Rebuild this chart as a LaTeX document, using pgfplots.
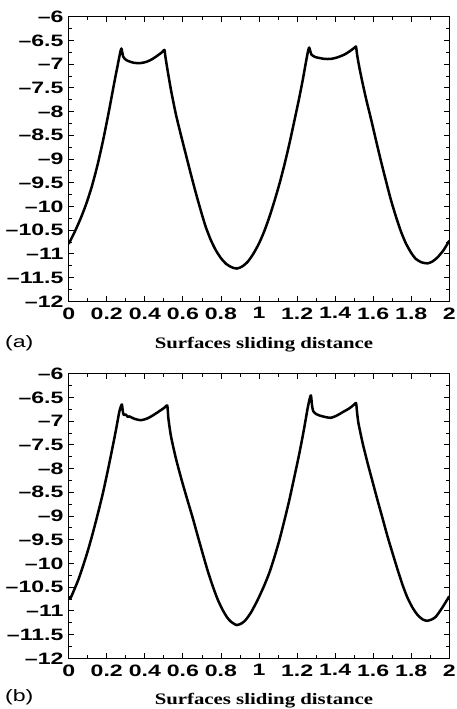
\documentclass[border=0pt]{standalone}
\usepackage{fontspec}
\usepackage{pgfplots}
\pgfplotsset{compat=1.18}
\newfontfamily\tickfont{Liberation Sans}[FakeStretch=1.4]
\newfontfamily\labfont{Liberation Serif}[FakeStretch=1.3]

\pgfplotstableread{
x y
0.000 -10.79
0.030 -10.55
0.060 -10.28
0.090 -9.97
0.120 -9.60
0.150 -9.15
0.180 -8.62
0.210 -8.02
0.240 -7.38
0.260 -6.97
0.272 -6.73
0.277 -6.67
0.281 -6.74
0.286 -6.84
0.295 -6.89
0.310 -6.93
0.340 -6.97
0.375 -6.98
0.410 -6.95
0.441 -6.89
0.470 -6.81
0.490 -6.75
0.503 -6.70
0.508 -6.84
0.520 -7.14
0.540 -7.60
0.564 -8.07
0.590 -8.50
0.616 -8.91
0.642 -9.32
0.669 -9.73
0.695 -10.10
0.720 -10.43
0.748 -10.72
0.774 -10.93
0.800 -11.09
0.827 -11.21
0.855 -11.28
0.883 -11.31
0.910 -11.27
0.940 -11.17
0.970 -11.00
1.000 -10.78
1.027 -10.53
1.054 -10.23
1.080 -9.90
1.107 -9.53
1.133 -9.13
1.159 -8.69
1.185 -8.21
1.212 -7.70
1.230 -7.33
1.247 -6.95
1.258 -6.72
1.264 -6.65
1.269 -6.72
1.276 -6.80
1.295 -6.85
1.317 -6.87
1.345 -6.89
1.378 -6.89
1.410 -6.86
1.448 -6.80
1.480 -6.72
1.503 -6.65
1.510 -6.63
1.514 -6.76
1.524 -7.00
1.540 -7.32
1.562 -7.72
1.590 -8.18
1.615 -8.61
1.640 -9.03
1.667 -9.46
1.693 -9.86
1.720 -10.22
1.746 -10.53
1.772 -10.78
1.800 -10.98
1.825 -11.11
1.855 -11.18
1.886 -11.20
1.912 -11.16
1.939 -11.07
1.970 -10.92
2.000 -10.72
}\dataA

\pgfplotstableread{
x y
0.000 -10.70
0.008 -10.74
0.021 -10.63
0.050 -10.35
0.074 -10.07
0.100 -9.74
0.126 -9.37
0.152 -8.97
0.179 -8.53
0.205 -8.05
0.231 -7.54
0.250 -7.15
0.266 -6.80
0.275 -6.68
0.280 -6.65
0.284 -6.78
0.289 -6.87
0.300 -6.86
0.310 -6.91
0.319 -6.90
0.345 -6.95
0.380 -6.98
0.415 -6.94
0.450 -6.86
0.480 -6.78
0.505 -6.71
0.518 -6.67
0.524 -6.95
0.538 -7.33
0.563 -7.78
0.590 -8.19
0.620 -8.61
0.651 -9.03
0.678 -9.42
0.704 -9.79
0.730 -10.15
0.757 -10.48
0.783 -10.76
0.809 -10.98
0.833 -11.14
0.853 -11.23
0.883 -11.30
0.910 -11.26
0.930 -11.19
0.957 -11.04
0.984 -10.84
1.000 -10.71
1.027 -10.47
1.054 -10.20
1.080 -9.88
1.107 -9.51
1.133 -9.10
1.159 -8.67
1.185 -8.19
1.212 -7.68
1.235 -7.20
1.256 -6.72
1.265 -6.55
1.273 -6.46
1.279 -6.68
1.285 -6.79
1.300 -6.85
1.317 -6.88
1.345 -6.91
1.378 -6.93
1.410 -6.88
1.440 -6.81
1.475 -6.73
1.500 -6.65
1.510 -6.62
1.515 -6.80
1.522 -7.03
1.545 -7.47
1.571 -7.89
1.597 -8.28
1.623 -8.67
1.650 -9.06
1.676 -9.44
1.703 -9.80
1.729 -10.14
1.755 -10.46
1.781 -10.73
1.808 -10.94
1.834 -11.09
1.860 -11.18
1.883 -11.21
1.908 -11.18
1.930 -11.12
1.965 -10.92
2.000 -10.69
}\dataB

\pgfplotsset{
  panel/.style={
    scale only axis,
    width=380.6pt, height=284.6pt,
    anchor=south west,
    xmin=0, xmax=2, ymin=-12, ymax=-6,
    xtick={0,0.2,0.4,0.6,0.8,1,1.2,1.4,1.6,1.8,2},
    xticklabels={0,0.2,0.4,0.6,0.8,1,1.2,1.4,1.6,1.8,2},
    ytick={-12,-11.5,-11,-10.5,-10,-9.5,-9,-8.5,-8,-7.5,-7,-6.5,-6},
    yticklabels={–12,–11.5,–11,–10.5,–10,–9.5,–9,–8.5,–8,–7.5,–7,–6.5,–6},
    minor x tick num=1, minor y tick num=1,
    tick align=inside,
    major tick length=5pt, minor tick length=3pt,
    every tick/.style={black, line width=0.8pt},
    axis line style={line width=0.9pt},
    ticklabel style={font=\fontsize{16.5}{17}\tickfont\bfseries},
    xticklabel style={inner sep=2pt, yshift=-4pt},
    yticklabel style={inner sep=2pt, xshift=-3pt},
  }
}

\begin{document}
\begin{tikzpicture}
\useasboundingbox (0pt,0pt) rectangle (456pt,709pt);

% panel (a)
\begin{axis}[panel, at={(68.7pt,407.7pt)}]
  \addplot[black, line width=2.5pt, line join=round, smooth, tension=0.4] table {\dataA};
\end{axis}
\node[anchor=base west, inner sep=0pt, font=\fontsize{16.5}{17}\tickfont] at (5pt,361pt) {(a)};
\node[anchor=base, inner sep=0pt, font=\fontsize{16}{17}\labfont\bfseries] at (264pt,360pt) {Surfaces sliding distance};

% panel (b)
\begin{axis}[panel, at={(68.7pt,50.7pt)}]
  \addplot[black, line width=2.5pt, line join=round, smooth, tension=0.4] table {\dataB};
\end{axis}
\node[anchor=base west, inner sep=0pt, font=\fontsize{16.5}{17}\tickfont] at (5pt,8pt) {(b)};
\node[anchor=base, inner sep=0pt, font=\fontsize{16}{17}\labfont\bfseries] at (264pt,4.5pt) {Surfaces sliding distance};
\end{tikzpicture}
\end{document}
